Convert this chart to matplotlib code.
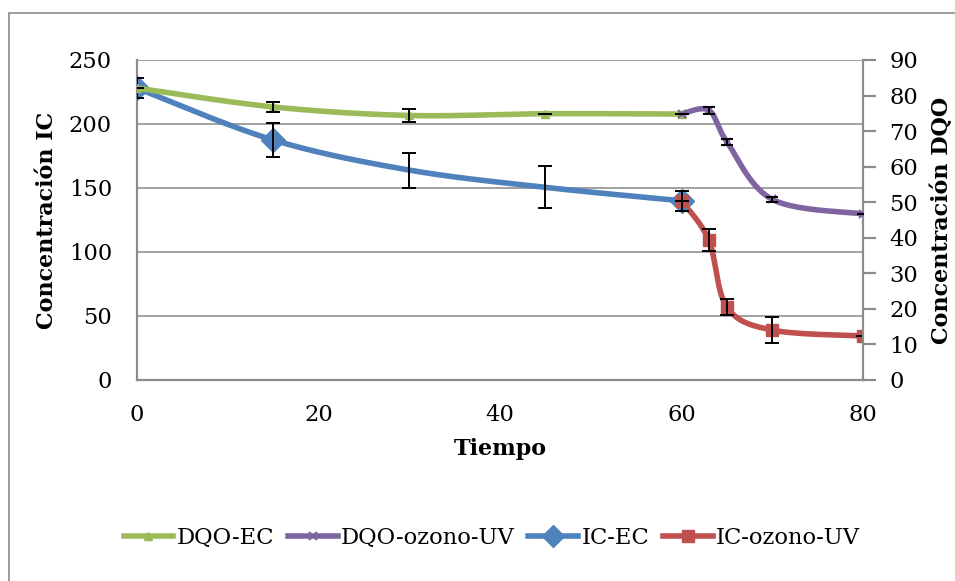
import numpy as np
import matplotlib
matplotlib.use("Agg")
import matplotlib.pyplot as plt
from matplotlib.lines import Line2D
from matplotlib.patches import Rectangle

# ---- data ----
t_ec = [0, 15, 30, 45, 60]
ic_ec = [228, 187.5, 164, 150.5, 140]
ic_ec_err = [7.8, 13.5, 13.7, 16.3, 8.0]
dqo_ec = [82.1, 76.8, 74.4, 74.9, 74.8]
dqo_ec_err = [0, 1.3, 1.8, 0, 0]

t_uv = [60, 63, 65, 70, 80]
ic_uv = [140, 109.5, 57, 39, 34.4]
ic_uv_err = [0, 8.5, 5.9, 10.0, 0]
dqo_uv = [74.8, 75.9, 67.0, 50.8, 46.7]
dqo_uv_err = [0, 1.0, 0.9, 0.7, 0]

x_ticks = [0, 20, 40, 60, 80]
ic_ticks = [0, 50, 100, 150, 200, 250]
dqo_ticks = list(range(0, 91, 10))

C_GREEN = "#9BBB59"
C_PURPLE = "#8064A2"
C_BLUE = "#4F81BD"
C_RED = "#C0504D"
C_AXIS = "#8C8C8C"

plt.rcParams["font.family"] = ["DejaVu Serif"]
FS = 16.3
FS_LAB = 16.0


def smooth(xs, ys, n=40):
    """Catmull-Rom style cubic Bezier smoothing through the points."""
    P = np.column_stack([xs, ys]).astype(float)
    m = len(P)
    out = [P[0]]
    tt = np.linspace(0, 1, n)[1:]
    for i in range(m - 1):
        p0, p3 = P[i], P[i + 1]
        prev = P[i - 1] if i > 0 else P[i]
        nxt = P[i + 2] if i + 2 < m else P[i + 1]
        c1 = p0 + (p3 - prev) / 6.0
        c2 = p3 - (nxt - p0) / 6.0
        for t in tt:
            b = ((1 - t) ** 3) * p0 + 3 * ((1 - t) ** 2) * t * c1 \
                + 3 * (1 - t) * t ** 2 * c2 + t ** 3 * p3
            out.append(b)
    out = np.array(out)
    return out[:, 0], out[:, 1]


fig = plt.figure(figsize=(9.55, 5.81), dpi=100)
fig.patches.append(Rectangle((9 / 955, -0.1), 1.2, 1 - 13 / 581 + 0.1,
                             transform=fig.transFigure, fill=False,
                             edgecolor=C_AXIS, linewidth=1.2, zorder=0))

ax = fig.add_axes([137 / 955, 1 - 380 / 581, (863 - 137) / 955, 320 / 581])
ax2 = ax.twinx()

ax.set_xlim(0, 80)
ax.set_ylim(0, 250)
ax2.set_ylim(0, 90)

# horizontal gridlines from the left axis
for v in ic_ticks[1:]:
    ax.axhline(v, color="#9A9A9A", linewidth=1.3, zorder=0)

LW = 4.0

# IC series (left axis)
sx, sy = smooth(t_ec, ic_ec)
ax.plot(sx, sy, color=C_BLUE, linewidth=LW, zorder=3, solid_capstyle="round")
ax.plot([t_ec[i] for i in (0, 1, 4)], [ic_ec[i] for i in (0, 1, 4)],
        linestyle="none", marker="D", markersize=12, color=C_BLUE, zorder=4)
ax.errorbar(t_ec, ic_ec, yerr=ic_ec_err, fmt="none", ecolor="black",
            elinewidth=1.4, capsize=5, capthick=1.4, zorder=5)

sx, sy = smooth(t_uv, ic_uv)
ax.plot(sx, sy, color=C_RED, linewidth=LW, zorder=3, solid_capstyle="round")
ax.plot(t_uv, ic_uv, linestyle="none", marker="s", markersize=8,
        color=C_RED, zorder=4)
ax.errorbar(t_uv, ic_uv, yerr=ic_uv_err, fmt="none", ecolor="black",
            elinewidth=1.4, capsize=5, capthick=1.4, zorder=5)

# DQO series (right axis)
sx, sy = smooth(t_ec, dqo_ec)
ax2.plot(sx, sy, color=C_GREEN, linewidth=LW, zorder=3, solid_capstyle="round")
ax2.plot(t_ec, dqo_ec, linestyle="none", marker="^", markersize=6,
         color=C_GREEN, zorder=4)
ax2.errorbar(t_ec, dqo_ec, yerr=dqo_ec_err, fmt="none", ecolor="black",
             elinewidth=1.4, capsize=5, capthick=1.4, zorder=5)

sx, sy = smooth(t_uv, dqo_uv)
ax2.plot(sx, sy, color=C_PURPLE, linewidth=LW, zorder=3, solid_capstyle="round")
ax2.plot(t_uv, dqo_uv, linestyle="none", marker="x", markersize=6,
         markeredgewidth=1.6, color=C_PURPLE, zorder=4)
ax2.errorbar(t_uv, dqo_uv, yerr=dqo_uv_err, fmt="none", ecolor="black",
             elinewidth=1.4, capsize=4, capthick=1.4, zorder=5)

# axes styling
for a in (ax, ax2):
    for s in a.spines.values():
        s.set_visible(False)
ax.spines["left"].set_visible(True)
ax.spines["bottom"].set_visible(True)
ax2.spines["right"].set_visible(True)
for s in (ax.spines["left"], ax.spines["bottom"], ax2.spines["right"]):
    s.set_color(C_AXIS)
    s.set_linewidth(1.6)

ax.set_xticks(x_ticks)
ax.set_yticks(ic_ticks)
ax2.set_yticks(dqo_ticks)
ax.tick_params(axis="y", length=0, labelsize=FS, pad=18, colors="black")
ax.tick_params(axis="x", length=0, labelsize=FS, pad=17, colors="black")
ax2.tick_params(axis="y", length=9, width=1.6, color=C_AXIS,
                labelsize=FS, pad=10, labelcolor="black")

ax.set_xlabel("Tiempo", fontsize=FS_LAB, fontweight="bold", labelpad=9)
ax.set_ylabel("Concentración IC", fontsize=FS_LAB, fontweight="bold",
              labelpad=8)
ax2.set_ylabel("Concentración DQO", fontsize=FS_LAB, fontweight="bold",
               labelpad=9)

handles = [
    Line2D([], [], color=C_GREEN, linewidth=LW, marker="^", markersize=6),
    Line2D([], [], color=C_PURPLE, linewidth=LW, marker="x", markersize=6,
           markeredgewidth=1.6),
    Line2D([], [], color=C_BLUE, linewidth=LW, marker="D", markersize=11),
    Line2D([], [], color=C_RED, linewidth=LW, marker="s", markersize=8),
]
labels = ["DQO-EC", "DQO-ozono-UV", "IC-EC", "IC-ozono-UV"]
fig.legend(handles, labels, loc="center", bbox_to_anchor=(0.515, 0.074),
           ncol=4, frameon=False, fontsize=FS, handlelength=2.2,
           handletextpad=0.15, columnspacing=0.6)

fig.savefig("out.png", dpi=100)
